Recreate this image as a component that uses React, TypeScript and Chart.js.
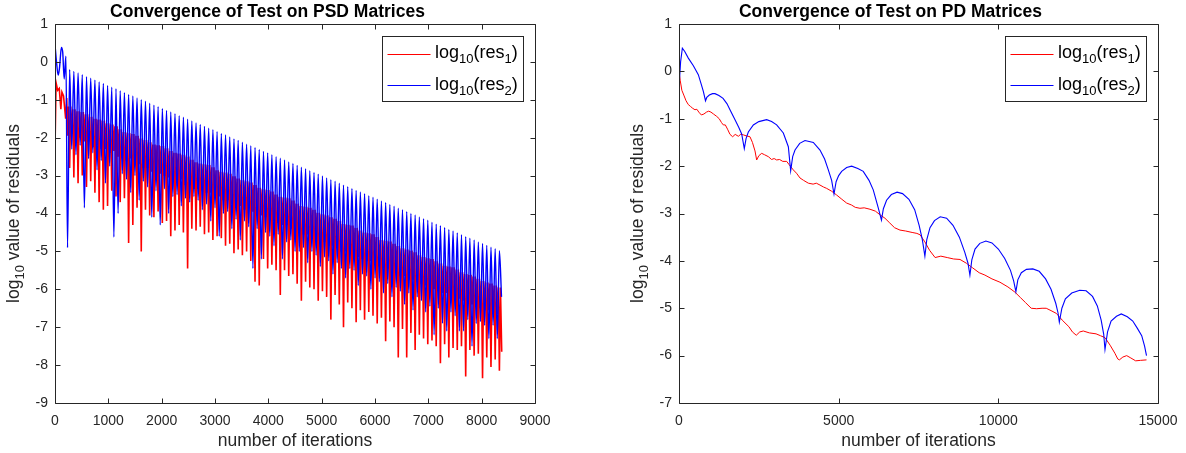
import React, { useEffect, useRef } from "react";
import { Chart, registerables } from "chart.js";

Chart.register(...registerables);

// ---------------- PSD (left) data ----------------
const psdCycleStart = 235; // iteration where the periodic part starts
const psdCycleLength = 79; // iterations per oscillation

const psdBlueHead: [number, number][] = [
  [0, 0.45], [35, -0.1], [60, -0.35], [85, -0.15], [120, 0.38], [145, 0.25], [172, -0.45], [205, 0.15],
];
const psdBluePeaks = [
  -0.20, -0.25, -0.29, -0.34, -0.39, -0.43, -0.48, -0.53, -0.57, -0.62,
  -0.67, -0.71, -0.76, -0.81, -0.86, -0.90, -0.95, -1.00, -1.04, -1.09,
  -1.14, -1.18, -1.23, -1.28, -1.32, -1.37, -1.42, -1.46, -1.51, -1.56,
  -1.61, -1.65, -1.70, -1.75, -1.79, -1.84, -1.89, -1.93, -1.98, -2.03,
  -2.07, -2.12, -2.17, -2.21, -2.26, -2.31, -2.36, -2.40, -2.45, -2.50,
  -2.54, -2.59, -2.64, -2.68, -2.73, -2.78, -2.82, -2.87, -2.92, -2.96,
  -3.01, -3.06, -3.11, -3.15, -3.20, -3.25, -3.29, -3.34, -3.39, -3.43,
  -3.48, -3.53, -3.57, -3.62, -3.67, -3.71, -3.76, -3.81, -3.86, -3.90,
  -3.95, -4.00, -4.04, -4.09, -4.14, -4.18, -4.23, -4.28, -4.32, -4.37,
  -4.42, -4.46, -4.51, -4.56, -4.61, -4.65, -4.70, -4.75, -4.79, -4.84,
  -4.89, -4.93, -4.98,
];
const psdBlueTroughs = [
  -4.90, -2.30, -2.45, -2.20, -3.85, -2.55, -2.40, -2.85, -2.60, -3.20,
  -2.75, -4.62, -4.00, -2.95, -3.10, -3.45, -3.00, -3.65, -3.15, -3.30,
  -4.10, -3.40, -4.30, -3.35, -4.00, -3.55, -3.50, -3.80, -3.60, -3.70,
  -3.55, -3.65, -3.90, -3.75, -4.20, -3.85, -4.60, -4.00, -3.95, -4.40,
  -4.15, -4.70, -4.20, -4.35, -5.45, -4.40, -5.20, -4.50, -4.60, -4.85,
  -4.55, -5.20, -4.75, -4.70, -5.00, -5.00, -4.90, -5.30, -5.00, -5.10,
  -5.40, -5.15, -5.25, -5.60, -5.30, -5.45, -5.70, -5.45, -5.50, -5.90,
  -5.60, -5.65, -6.00, -5.70, -5.80, -6.10, -5.85, -6.20, -5.95, -6.05,
  -6.40, -6.10, -6.55, -6.20, -6.30, -6.60, -6.45, -7.20, -6.50, -6.90,
  -7.10, -6.60, -6.70, -7.10, -7.10, -6.80, -7.50, -6.90, -6.85, -6.95,
  -7.30, -6.95, -7.30,
];
const psdBlueEnd: [number, number] = [8372, -6.2];

const psdRedHead: [number, number][] = [
  [0, -2.3], [20, -0.55], [50, -0.75], [80, -0.7], [110, -1.25], [130, -0.8], [160, -0.9], [200, -1.5], [220, -0.95],
];
const psdRedTops = [
  -1.18, -1.25, -1.30, -1.32, -1.38, -1.45, -1.50, -1.52, -1.55, -1.62,
  -1.65, -1.70, -1.78, -1.85, -1.88, -1.90, -1.95, -2.02, -2.06, -2.12,
  -2.18, -2.20, -2.22, -2.28, -2.35, -2.40, -2.42, -2.45, -2.50, -2.58,
  -2.65, -2.68, -2.70, -2.72, -2.78, -2.86, -2.90, -2.92, -2.95, -3.02,
  -3.08, -3.12, -3.15, -3.18, -3.25, -3.32, -3.36, -3.38, -3.42, -3.50,
  -3.56, -3.58, -3.60, -3.66, -3.74, -3.80, -3.82, -3.85, -3.90, -3.98,
  -4.02, -4.05, -4.10, -4.14, -4.20, -4.28, -4.30, -4.32, -4.38, -4.45,
  -4.50, -4.52, -4.55, -4.62, -4.70, -4.72, -4.74, -4.80, -4.86, -4.92,
  -4.95, -4.98, -5.02, -5.10, -5.15, -5.18, -5.20, -5.26, -5.32, -5.38,
  -5.40, -5.42, -5.48, -5.55, -5.60, -5.62, -5.66, -5.72, -5.78, -5.82,
  -5.85, -5.90, -5.95,
];
const psdRedMids = [
  -1.95, -1.90, -2.05, -2.00, -2.10, -2.10, -2.25, -2.20, -2.30, -2.30,
  -2.40, -2.35, -2.50, -2.55, -2.60, -2.55, -2.70, -2.70, -2.80, -2.80,
  -2.90, -2.85, -2.95, -3.00, -3.05, -3.05, -3.15, -3.10, -3.25, -3.25,
  -3.35, -3.35, -3.40, -3.45, -3.45, -3.60, -3.55, -3.65, -3.65, -3.75,
  -3.80, -3.80, -3.90, -3.85, -3.95, -4.05, -4.05, -4.10, -4.15, -4.20,
  -4.25, -4.30, -4.30, -4.40, -4.45, -4.50, -4.55, -4.55, -4.65, -4.70,
  -4.75, -4.75, -4.85, -4.85, -4.90, -5.00, -5.00, -5.05, -5.10, -5.15,
  -5.20, -5.25, -5.25, -5.35, -5.40, -5.45, -5.45, -5.55, -5.55, -5.65,
  -5.65, -5.75, -5.75, -5.80, -5.85, -5.90, -5.95, -6.00, -6.05, -6.10,
  -6.10, -6.15, -6.20, -6.25, -6.30, -6.35, -6.40, -6.45, -6.50, -6.55,
  -6.55, -6.60, -6.65,
];
const psdRedSpikes = [
  -2.80, -3.05, -3.20, -3.00, -3.30, -3.15, -3.45, -3.70, -3.90, -3.80,
  -3.40, -3.55, -3.70, -3.60, -4.78, -4.30, -3.85, -5.00, -3.90, -4.05,
  -4.10, -3.95, -4.25, -4.20, -4.60, -4.45, -4.30, -4.50, -5.45, -4.40,
  -4.45, -4.35, -4.55, -4.50, -4.70, -4.60, -4.65, -4.85, -4.80, -5.05,
  -4.95, -5.10, -5.00, -5.25, -5.80, -5.90, -5.20, -5.45, -5.35, -5.50,
  -6.15, -5.50, -5.65, -5.60, -5.85, -6.30, -5.80, -5.95, -6.00, -6.30,
  -6.05, -6.20, -6.80, -6.15, -6.40, -7.00, -6.35, -6.50, -6.87, -6.55,
  -6.80, -6.60, -6.70, -6.90, -6.75, -7.37, -6.85, -7.00, -7.80, -7.05,
  -7.80, -7.15, -7.60, -7.20, -7.30, -7.45, -7.35, -7.50, -7.95, -7.45,
  -7.80, -7.55, -7.60, -7.50, -8.30, -7.60, -7.75, -7.70, -8.35, -7.80,
  -8.05, -7.85, -8.15,
];
const psdRedEnd: [number, number] = [8376, -7.65];

// ---------------- PD (right) data ----------------
const pdBlue: [number, number][] = [
  [0, -0.35], [50, 0.2], [105, 0.49], [180, 0.42], [292, 0.28], [450, 0.12], [605, -0.07], [700, -0.28], [762, -0.42], [830, -0.62],
  [870, -0.55], [950, -0.5], [1050, -0.47], [1127, -0.47], [1250, -0.51], [1380, -0.57], [1500, -0.68], [1620, -0.84], [1754, -1.02], [1870, -1.18], [1963, -1.32], [2045, -1.63],
  [2100, -1.42], [2171, -1.28], [2328, -1.13], [2500, -1.06], [2745, -1.02], [2900, -1.06], [3058, -1.13], [3267, -1.3], [3424, -1.59], [3497, -2.1],
  [3560, -1.8], [3633, -1.66], [3780, -1.52], [3946, -1.46], [4206, -1.5], [4415, -1.66], [4560, -1.85], [4676, -2.08], [4780, -2.3], [4854, -2.59],
  [4920, -2.33], [5000, -2.2], [5094, -2.11], [5250, -2.03], [5407, -2.0], [5600, -2.05], [5770, -2.11], [5950, -2.3], [6083, -2.5], [6240, -2.88], [6340, -3.14],
  [6400, -2.9], [6500, -2.72], [6650, -2.6], [6830, -2.55], [7000, -2.58], [7200, -2.7], [7380, -2.92], [7520, -3.25], [7620, -3.55], [7700, -3.9],
  [7760, -3.55], [7860, -3.3], [8000, -3.15], [8180, -3.07], [8380, -3.1], [8580, -3.25], [8780, -3.5], [8950, -3.82], [9050, -4.05], [9110, -4.3],
  [9170, -3.98], [9270, -3.75], [9420, -3.63], [9610, -3.58], [9800, -3.62], [10000, -3.75], [10200, -3.95], [10380, -4.2], [10480, -4.42], [10550, -4.65],
  [10610, -4.4], [10720, -4.25], [10880, -4.18], [11080, -4.17], [11280, -4.22], [11480, -4.38], [11650, -4.6], [11800, -4.9], [11870, -5.1], [11910, -5.29],
  [11990, -5.0], [12100, -4.8], [12300, -4.68], [12550, -4.62], [12750, -4.63], [12950, -4.75], [13100, -4.95], [13220, -5.25], [13300, -5.55], [13340, -5.87],
  [13420, -5.5], [13530, -5.27], [13700, -5.17], [13850, -5.12], [14040, -5.18], [14210, -5.27], [14350, -5.42], [14490, -5.58], [14580, -5.8], [14640, -6.0],
];
const pdRed: [number, number][] = [
  [0, 0.0], [40, -0.2], [90, -0.4], [150, -0.5], [220, -0.62], [290, -0.7], [360, -0.74], [430, -0.78], [500, -0.81], [560, -0.8],
  [620, -0.86], [700, -0.92], [780, -0.9], [860, -0.86], [930, -0.84], [1000, -0.86], [1080, -0.9], [1180, -0.95], [1260, -1.0], [1330, -1.08],
  [1388, -1.13], [1450, -1.13], [1520, -1.22], [1597, -1.33], [1680, -1.38], [1760, -1.33], [1858, -1.37], [1930, -1.33], [2015, -1.34], [2100, -1.36],
  [2223, -1.38], [2300, -1.5], [2380, -1.68], [2432, -1.87], [2500, -1.78], [2589, -1.73], [2680, -1.76], [2797, -1.8], [2900, -1.86], [2980, -1.84],
  [3058, -1.87], [3150, -1.86], [3250, -1.9], [3372, -1.9], [3450, -1.97], [3580, -2.08], [3680, -2.15], [3789, -2.25], [3900, -2.3], [4050, -2.36],
  [4200, -2.38], [4300, -2.36], [4415, -2.4], [4524, -2.44], [4624, -2.47], [4780, -2.53], [4937, -2.61], [5100, -2.7], [5250, -2.78], [5400, -2.82],
  [5520, -2.87], [5667, -2.89], [5800, -2.88], [5980, -2.91], [6150, -2.95], [6300, -3.03], [6450, -3.1], [6600, -3.2], [6750, -3.3], [6920, -3.35],
  [7100, -3.37], [7300, -3.4], [7450, -3.42], [7550, -3.45], [7700, -3.6], [7850, -3.78], [8020, -3.93], [8200, -3.9], [8400, -3.93], [8600, -3.96],
  [8800, -3.97], [9000, -4.05], [9200, -4.15], [9400, -4.25], [9580, -4.3], [9800, -4.38], [10050, -4.45], [10300, -4.55], [10520, -4.66], [10700, -4.78],
  [10850, -4.88], [11030, -5.0], [11200, -5.01], [11370, -5.0], [11500, -5.0], [11650, -5.05], [11820, -5.11], [12000, -5.25], [12210, -5.39], [12320, -5.5],
  [12440, -5.57], [12550, -5.5], [12660, -5.48], [12850, -5.52], [13060, -5.54], [13200, -5.58], [13340, -5.62], [13500, -5.78], [13650, -5.95], [13740, -6.07],
  [13790, -6.09], [13900, -6.03], [14020, -6.0], [14150, -6.05], [14300, -6.11], [14450, -6.1], [14640, -6.09],
];

// ---------------- text ----------------
const titles = ["Convergence of Test on PSD Matrices", "Convergence of Test on PD Matrices"];
const xTitle = "number of iterations";
type Part = { t: string; sub?: boolean };
const yTitleParts: Part[] = [{ t: "log" }, { t: "10", sub: true }, { t: " value of residuals" }];
const legendLabels: Part[][] = [
  [{ t: "log" }, { t: "10", sub: true }, { t: "(res" }, { t: "1", sub: true }, { t: ")" }],
  [{ t: "log" }, { t: "10", sub: true }, { t: "(res" }, { t: "2", sub: true }, { t: ")" }],
];
const seriesColors = ["#ff0000", "#0000ff"];

const FONT = '"Liberation Sans", Arial, Helvetica, sans-serif';
const AXIS = "#262626";

function buildPsdBlue() {
  const pts = psdBlueHead.map(([x, y]) => ({ x, y }));
  psdBluePeaks.forEach((pk, i) => {
    const s = psdCycleStart + i * psdCycleLength;
    pts.push({ x: s, y: psdBlueTroughs[i] });
    pts.push({ x: s + psdCycleLength / 2, y: pk });
  });
  pts.push({ x: psdBlueEnd[0], y: psdBlueEnd[1] });
  return pts;
}
function buildPsdRed() {
  const pts = psdRedHead.map(([x, y]) => ({ x, y }));
  psdRedTops.forEach((top, i) => {
    const s = psdCycleStart + i * psdCycleLength;
    pts.push({ x: s, y: psdRedMids[i] });
    pts.push({ x: s + psdCycleLength * 0.25, y: top });
    pts.push({ x: s + psdCycleLength * 0.5, y: psdRedSpikes[i] });
    pts.push({ x: s + psdCycleLength * 0.75, y: top });
  });
  pts.push({ x: psdRedEnd[0], y: psdRedEnd[1] });
  return pts;
}

function measureParts(ctx: CanvasRenderingContext2D, parts: Part[], size: number, subSize: number) {
  let w = 0;
  for (const p of parts) {
    ctx.font = `${p.sub ? subSize : size}px ${FONT}`;
    w += ctx.measureText(p.t).width;
  }
  return w;
}
function drawParts(ctx: CanvasRenderingContext2D, parts: Part[], x: number, y: number, size: number, subSize: number, drop: number) {
  let cx = x;
  for (const p of parts) {
    ctx.font = `${p.sub ? subSize : size}px ${FONT}`;
    ctx.fillText(p.t, cx, p.sub ? y + drop : y);
    cx += ctx.measureText(p.t).width;
  }
}

const matlabFrame = {
  id: "matlabFrame",
  afterDatasetsDraw(chart: any) {
    const { ctx, chartArea: a, scales } = chart;
    ctx.save();
    ctx.strokeStyle = AXIS;
    ctx.lineWidth = 1;
    const L = Math.round(a.left) + 0.5;
    const R = Math.round(a.right) + 0.5;
    const T = Math.round(a.top) + 0.5;
    const B = Math.round(a.bottom) + 0.5;
    ctx.beginPath();
    ctx.rect(L, T, R - L, B - T);
    const tl = 5;
    scales.x.ticks.forEach((t: any) => {
      const px = Math.round(scales.x.getPixelForValue(t.value)) + 0.5;
      ctx.moveTo(px, B); ctx.lineTo(px, B - tl);
      ctx.moveTo(px, T); ctx.lineTo(px, T + tl);
    });
    scales.y.ticks.forEach((t: any) => {
      const py = Math.round(scales.y.getPixelForValue(t.value)) + 0.5;
      ctx.moveTo(L, py); ctx.lineTo(L + tl, py);
      ctx.moveTo(R, py); ctx.lineTo(R - tl, py);
    });
    ctx.stroke();

    // legend
    const bw = 141, bh = 65;
    const bx = Math.round(a.right - 12 - bw) + 0.5;
    const by = Math.round(a.top + 11.5) + 0.5;
    ctx.fillStyle = "#ffffff";
    ctx.fillRect(bx, by, bw, bh);
    ctx.strokeStyle = AXIS;
    ctx.strokeRect(bx, by, bw, bh);
    legendLabels.forEach((parts, i) => {
      const ly = by + 17 + i * 31.5;
      ctx.strokeStyle = seriesColors[i];
      ctx.lineWidth = 1;
      ctx.beginPath();
      ctx.moveTo(bx + 5, Math.round(ly) + 0.5);
      ctx.lineTo(bx + 48, Math.round(ly) + 0.5);
      ctx.stroke();
      ctx.fillStyle = "#000000";
      ctx.textBaseline = "alphabetic";
      ctx.textAlign = "left";
      drawParts(ctx, parts, bx + 52.5, by + 21.5 + i * 31.5, 18, 13, 5);
    });

    // y title
    ctx.fillStyle = AXIS;
    ctx.textBaseline = "alphabetic";
    ctx.textAlign = "left";
    const w = measureParts(ctx, yTitleParts, 17.5, 13);
    ctx.translate(a.left - 36, (a.top + a.bottom) / 2);
    ctx.rotate(-Math.PI / 2);
    drawParts(ctx, yTitleParts, -w / 2, 0, 17.5, 13, 4.5);
    ctx.restore();
  },
};

const plainTick = (v: any) => String(v);

function makeConfig(title: string, datasets: any[], xMax: number, xStep: number, yMin: number, yWidth: number, rightPad: number): any {
  return {
    type: "line",
    data: { datasets },
    plugins: [matlabFrame],
    options: {
      animation: false,
      responsive: false,
      events: [],
      layout: { padding: { left: 0, right: rightPad, top: 0, bottom: 0 } },
      plugins: {
        legend: { display: false },
        tooltip: { enabled: false },
        title: {
          display: true,
          text: title,
          color: "#000000",
          font: { family: FONT, size: 17.5, weight: "bold" },
          padding: { top: 2, bottom: 1 },
        },
      },
      scales: {
        x: {
          type: "linear",
          min: 0,
          max: xMax,
          grid: { display: false, drawTicks: false },
          border: { display: false },
          ticks: { stepSize: xStep, color: AXIS, font: { family: FONT, size: 14 }, padding: 10, maxRotation: 0, autoSkip: false, callback: plainTick },
          title: { display: true, text: xTitle, color: AXIS, font: { family: FONT, size: 17.5 }, padding: { top: 0, bottom: 1 } },
          afterFit: (s: any) => { s.height = 50; },
        },
        y: {
          type: "linear",
          min: yMin,
          max: 1,
          grid: { display: false, drawTicks: false },
          border: { display: false },
          ticks: { stepSize: 1, color: AXIS, font: { family: FONT, size: 14 }, padding: 7, autoSkip: false, callback: plainTick },
          afterFit: (s: any) => { s.width = yWidth; },
        },
      },
      elements: { point: { radius: 0 }, line: { tension: 0 } },
    },
  };
}

export default function App() {
  const leftRef = useRef<HTMLCanvasElement>(null);
  const rightRef = useRef<HTMLCanvasElement>(null);

  useEffect(() => {
    const ds = (label: string, data: any[], color: string, order: number, width: number, smooth: boolean) => ({
      label, data, borderColor: color, backgroundColor: color, borderWidth: width, pointRadius: 0, fill: false, order, tension: 0,
      cubicInterpolationMode: smooth ? "monotone" : "default",
    });
    const left = new Chart(leftRef.current!, makeConfig(titles[0], [
      ds("log10(res1)", buildPsdRed(), seriesColors[0], 1, 1.6, false),
      ds("log10(res2)", buildPsdBlue(), seriesColors[1], 0, 1.4, true),
    ], 9000, 1000, -9, 55, 55));
    const right = new Chart(rightRef.current!, makeConfig(titles[1], [
      ds("log10(res1)", pdRed.map(([x, y]) => ({ x, y })), seriesColors[0], 1, 1, false),
      ds("log10(res2)", pdBlue.map(([x, y]) => ({ x, y })), seriesColors[1], 0, 1.1, false),
    ], 15000, 5000, -7, 56, 56));
    return () => { left.destroy(); right.destroy(); };
  }, []);

  return (
    <div style={{ position: "fixed", left: 0, top: 0, width: 1186, height: 453, overflow: "hidden", background: "#fff" }}>
      <canvas ref={leftRef} width={590} height={453} style={{ position: "absolute", left: 0, top: 0, width: 590, height: 453 }} />
      <canvas ref={rightRef} width={591} height={453} style={{ position: "absolute", left: 623, top: 0, width: 591, height: 453 }} />
    </div>
  );
}
